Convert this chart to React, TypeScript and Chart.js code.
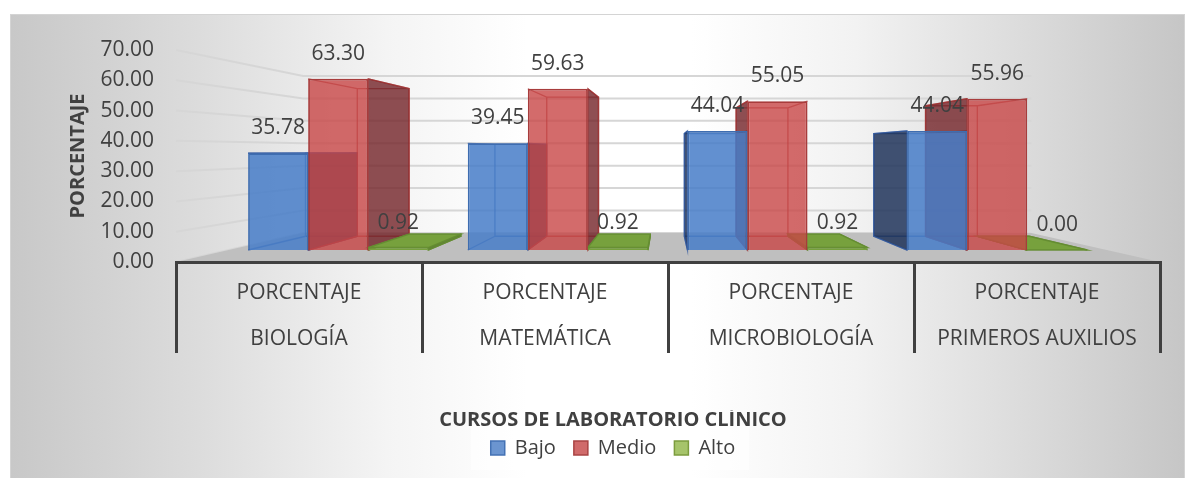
import React, { useEffect, useRef } from 'react';
import { Chart, registerables } from 'chart.js';

Chart.register(...registerables);

// ---------- data ----------
const categories: string[][] = [
  ['PORCENTAJE', 'BIOLOGÍA'],
  ['PORCENTAJE', 'MATEMÁTICA'],
  ['PORCENTAJE', 'MICROBIOLOGÍA'],
  ['PORCENTAJE', 'PRIMEROS AUXILIOS'],
];
const seriesNames = ['Bajo', 'Medio', 'Alto'];
const bajo = [35.78, 39.45, 44.04, 44.04];
const medio = [63.3, 59.63, 55.05, 55.96];
const alto = [0.92, 0.92, 0.92, 0.0];
const yTicks = [0, 10, 20, 30, 40, 50, 60, 70];
const yTitle = 'PORCENTAJE';
const xTitle = 'CURSOS DE LABORATORIO CLÍNICO';

// ---------- styles ----------
const FONT = "'Open Sans', 'Noto Sans', sans-serif";
const TEXT = '#404040';
const FRONT_D = 0.107;
const BACK_D = 0.23;
const FLOOR_D = 0.26;

const frontFill = ['rgba(70,125,200,0.85)', 'rgba(200,70,70,0.8)', '#77a13d'];
const frontBorder = ['#3e6db0', '#a83c3c', '#6a9435'];
const frontBorderW = [2, 2, 1];
const faceStyles = [
  { side: 'rgba(25,45,85,0.82)', top: 'rgba(110,150,215,0.9)', edge: 'rgba(50,90,160,0.75)' },
  { side: 'rgba(115,35,40,0.8)', top: 'rgba(220,120,120,0.9)', edge: 'rgba(160,50,50,0.75)' },
  { side: 'rgba(90,125,45,0.9)', top: '#77a13d', edge: 'rgba(100,140,50,0.95)' },
];
const legendFill = ['#6b95d0', '#d06a6a', '#a6c46a'];
const legendStroke = ['#4472b4', '#a94444', '#7c9c3e'];

type P = { x: number; y: number };

function vanishing(chart: any): P {
  const a = chart.chartArea;
  return { x: a.left + 0.497 * (a.right - a.left), y: a.top + 0.472 * (a.bottom - a.top) };
}
function toward(vp: P, x: number, y: number, k: number): P {
  return { x: vp.x + k * (x - vp.x), y: vp.y + k * (y - vp.y) };
}
function poly(ctx: CanvasRenderingContext2D, pts: P[], fill: string, stroke?: string) {
  ctx.beginPath();
  ctx.moveTo(pts[0].x, pts[0].y);
  for (let i = 1; i < pts.length; i++) ctx.lineTo(pts[i].x, pts[i].y);
  ctx.closePath();
  ctx.fillStyle = fill;
  ctx.fill();
  if (stroke) {
    ctx.strokeStyle = stroke;
    ctx.lineWidth = 1.5;
    ctx.stroke();
  }
}

const depthPlugin = {
  id: 'depth3d',
  beforeDraw(chart: any) {
    const { ctx, chartArea: a } = chart;
    const vp = vanishing(chart);
    const ys = chart.scales.y;
    ctx.save();
    // legend backdrop
    const hb = chart.legend && chart.legend.legendHitBoxes;
    if (hb && hb.length) {
      const first = hb[0];
      const last = hb[hb.length - 1];
      const cy = first.top + first.height / 2;
      const l = first.left - 20;
      const r = last.left + last.width + 14;
      ctx.fillStyle = 'rgba(255,255,255,0.55)';
      ctx.fillRect(l, cy - 23, r - l, 45);
    }
    // wall grid lines
    const kF = 1 - FLOOR_D;
    ctx.strokeStyle = '#d6d6d6';
    ctx.lineWidth = 2;
    yTicks.forEach((v) => {
      const yf = ys.getPixelForValue(v);
      const b = toward(vp, a.left, yf, kF);
      const br = toward(vp, a.right, yf, kF);
      ctx.beginPath();
      ctx.moveTo(a.left, yf);
      ctx.lineTo(b.x, b.y);
      ctx.lineTo(br.x, b.y);
      ctx.stroke();
    });
    // floor
    const fl = toward(vp, a.left, a.bottom, kF);
    const fr = toward(vp, a.right, a.bottom, kF);
    poly(ctx, [{ x: a.left, y: a.bottom }, { x: a.right, y: a.bottom }, fr, fl], '#bfbfbf');
    ctx.restore();
  },
  beforeDatasetsDraw(chart: any) {
    const { ctx } = chart;
    const vp = vanishing(chart);
    const s = 1 - FRONT_D;
    ctx.save();
    ctx.translate(vp.x, vp.y);
    ctx.scale(s, s);
    ctx.translate(-vp.x, -vp.y);
    const r = (1 - BACK_D) / s;
    chart.data.datasets.forEach((_ds: any, di: number) => {
      const meta = chart.getDatasetMeta(di);
      const st = faceStyles[di];
      meta.data.forEach((el: any) => {
        const { x, y, base, width } = el.getProps(['x', 'y', 'base', 'width'], true);
        const L = x - width / 2;
        const R = x + width / 2;
        const T = Math.min(y, base);
        const B = Math.max(y, base);
        const bLT = toward(vp, L, T, r);
        const bRT = toward(vp, R, T, r);
        const bLB = toward(vp, L, B, r);
        const bRB = toward(vp, R, B, r);
        // hidden edges seen through the transparent box
        ctx.strokeStyle = st.edge;
        ctx.lineWidth = 1.5;
        ctx.beginPath();
        ctx.moveTo(bLT.x, bLT.y);
        ctx.lineTo(bRT.x, bRT.y);
        ctx.lineTo(bRB.x, bRB.y);
        ctx.lineTo(bLB.x, bLB.y);
        ctx.closePath();
        ctx.moveTo(L, T); ctx.lineTo(bLT.x, bLT.y);
        ctx.moveTo(R, T); ctx.lineTo(bRT.x, bRT.y);
        ctx.moveTo(L, B); ctx.lineTo(bLB.x, bLB.y);
        ctx.moveTo(R, B); ctx.lineTo(bRB.x, bRB.y);
        ctx.stroke();
        if (vp.x > R) {
          poly(ctx, [{ x: R, y: T }, bRT, bRB, { x: R, y: B }], st.side, st.edge);
        } else if (vp.x < L) {
          poly(ctx, [{ x: L, y: T }, bLT, bLB, { x: L, y: B }], st.side, st.edge);
        }
        if (T > vp.y) {
          poly(ctx, [{ x: L, y: T }, { x: R, y: T }, bRT, bLT], st.top, st.edge);
        }
      });
    });
  },
  afterDatasetsDraw(chart: any) {
    const { ctx } = chart;
    ctx.restore();
    const vp = vanishing(chart);
    const s = 1 - FRONT_D;
    ctx.save();
    ctx.font = `21px ${FONT}`;
    ctx.fillStyle = TEXT;
    ctx.textAlign = 'center';
    ctx.textBaseline = 'middle';
    chart.data.datasets.forEach((ds: any, di: number) => {
      chart.getDatasetMeta(di).data.forEach((el: any, i: number) => {
        const { x, y } = el.getProps(['x', 'y'], true);
        const p = toward(vp, x, y, s);
        ctx.fillText(Number(ds.data[i]).toFixed(2), p.x, p.y - 25);
      });
    });
    ctx.restore();
  },
};

export default function App() {
  const ref = useRef<HTMLCanvasElement | null>(null);

  useEffect(() => {
    if (!ref.current) return;
    Chart.defaults.font.family = FONT;
    Chart.defaults.color = TEXT;
    const seriesData = [bajo, medio, alto];
    const chart = new Chart(ref.current, {
      type: 'bar',
      data: {
        labels: categories as any,
        datasets: seriesNames.map((name, i) => ({
          label: name,
          data: seriesData[i],
          backgroundColor: frontFill[i],
          borderColor: frontBorder[i],
          borderWidth: frontBorderW[i],
          categoryPercentage: 0.82,
          barPercentage: 1.0,
        })),
      },
      options: {
        responsive: false,
        animation: false,
        events: [],
        layout: { padding: { left: 55, right: 24, top: 35, bottom: 10 } },
        plugins: {
          tooltip: { enabled: false },
          legend: {
            position: 'bottom',
            title: {
              display: true,
              text: xTitle,
              color: TEXT,
              font: { size: 20, weight: 'bold', lineHeight: 1 },
              padding: { top: 0, bottom: -10 },
            },
            labels: {
              boxWidth: 14,
              boxHeight: 14,
              padding: 18,
              color: TEXT,
              font: { size: 20 },
              generateLabels: () =>
                seriesNames.map((name, i) => ({
                  text: name,
                  fillStyle: legendFill[i],
                  strokeStyle: legendStroke[i],
                  lineWidth: 1.5,
                  hidden: false,
                  datasetIndex: i,
                  fontColor: TEXT,
                })),
            },
          },
        },
        scales: {
          x: {
            type: 'category',
            offset: true,
            grid: {
              display: true,
              offset: true,
              drawOnChartArea: false,
              drawTicks: true,
              tickLength: 91,
              color: '#404040',
              lineWidth: 3,
            },
            border: { display: true, color: '#404040', width: 3 },
            ticks: {
              padding: -83,
              color: TEXT,
              font: { size: 21, lineHeight: 46 / 21 },
              maxRotation: 0,
              autoSkip: false,
            },
            afterFit: (sc: any) => {
              sc.height = 148;
            },
          },
          y: {
            min: 0,
            max: 70,
            grid: { display: false, drawTicks: false },
            border: { display: false },
            ticks: {
              padding: 22,
              color: TEXT,
              font: { size: 21 },
              callback: (v: any) => Number(v).toFixed(2),
            },
            afterBuildTicks: (sc: any) => {
              sc.ticks = yTicks.map((v) => ({ value: v }));
            },
            title: {
              display: true,
              text: yTitle,
              color: TEXT,
              font: { size: 20, weight: 'bold' },
              padding: { top: 0, bottom: 0 },
            },
            afterFit: (sc: any) => {
              sc.width = 110;
            },
          },
        },
      } as any,
      plugins: [depthPlugin as any],
    });
    return () => chart.destroy();
  }, []);

  return (
    <div
      style={{
        position: 'absolute',
        left: 10,
        top: 14,
        width: 1173,
        height: 463,
        borderTop: '1px solid #d4d4d4',
        borderLeft: '1px solid #d4d4d4',
        borderRight: '1px solid #d4d4d4',
        background:
          'linear-gradient(90deg, #c8c8c8 0%, #dcdcdc 16%, #f4f4f4 32%, #ffffff 44%, #ffffff 58%, #f2f2f2 72%, #dcdcdc 86%, #c6c6c6 100%)',
      }}
    >
      <canvas ref={ref} width={1173} height={463} style={{ display: 'block' }} />
    </div>
  );
}
